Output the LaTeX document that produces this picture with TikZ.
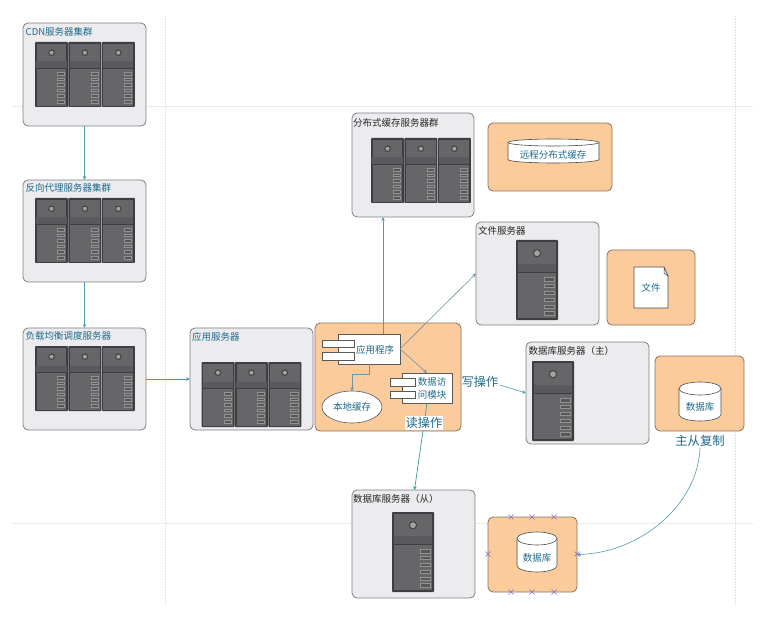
\documentclass[tikz,border=0pt]{standalone}
\usepackage{fontspec}
\setmainfont{Noto Sans CJK SC}
\usetikzlibrary{arrows.meta,calc,shapes.misc,shapes.geometric}
\definecolor{panelgrey}{HTML}{ECEBEE}
\definecolor{paneledge}{HTML}{7C8084}
\definecolor{peach}{HTML}{FBCB9C}
\definecolor{peachedge}{HTML}{8A7360}
\definecolor{inkblue}{HTML}{1F6A8A}
\definecolor{linkteal}{HTML}{4F9DAD}
\definecolor{linkgrey}{HTML}{6F969F}
\definecolor{linkblue}{HTML}{4A97C8}
\definecolor{linkgreen}{HTML}{3F9A94}
\definecolor{guide}{HTML}{E2E2E5}
\definecolor{caseedge}{HTML}{3E3E40}
\definecolor{casefill}{HTML}{666668}
\definecolor{slotedge}{HTML}{929294}
\definecolor{crossblue}{HTML}{8070D8}
\newcommand{\knobradius}{2.7pt}
\tikzset{
  greypanel/.style={draw=paneledge,line width=.8pt,fill=panelgrey,rounded corners=5pt,inner sep=0pt,outer sep=0pt},
  peachpanel/.style={draw=peachedge,line width=.8pt,fill=peach,rounded corners=5pt,inner sep=0pt,outer sep=0pt},
  whitebox/.style={draw=black!65,line width=.6pt,fill=white,inner sep=0pt,outer sep=0pt},
  titletext/.style={anchor=west,inner sep=0pt,text=black!85,font=\fontsize{9.5}{11}\selectfont},
  bluetitle/.style={titletext,text=inkblue},
  innertext/.style={inner sep=0pt,text=inkblue,font=\fontsize{9.5}{11}\selectfont},
  biglabel/.style={inner sep=1pt,text=inkblue,fill=white,font=\fontsize{12.3}{14}\selectfont},
  guideline/.style={draw=guide,line width=.6pt,densely dotted},
  link/.style={draw=linkteal,line width=.7pt,-{Stealth[length=4pt,width=3.5pt]}},
  thinlink/.style={draw=linkgrey,line width=.6pt,-{Stealth[length=4pt,width=3.5pt]}},
  xmark/.style={cross out,draw=crossblue,line width=.5pt,minimum size=4.5pt,inner sep=0pt},
  serverunit/.pic={
    \fill[caseedge,rounded corners=.8pt] (0,0) rectangle (1,1);
    \fill[casefill!70!caseedge] (.04,.3) rectangle (.96,.4);
    \fill[casefill] (.05,.03) rectangle (.95,.3);
    \fill[casefill] (.05,.41) rectangle (.95,.98);
    \draw[black!75,line width=1pt,fill=casefill!60!white] (.5,.165) circle[radius=\knobradius];
    \foreach \slot in {0,...,5}
      \draw[slotedge,line width=.5pt,fill=casefill!85!black]
        (.68,.47+\slot*.085) rectangle (.9,.51+\slot*.085);
  },
}
% Rounded panel given by its corners, with a name for connectors
\newcommand{\panelbox}[6]{%
  \pgfmathsetmacro{\pw}{#5-#3}\pgfmathsetmacro{\ph}{#6-#4}%
  \pgfmathsetmacro{\pcx}{(#3+#5)/2}\pgfmathsetmacro{\pcy}{(#4+#6)/2}%
  \node[#1,minimum width=\pw pt,minimum height=\ph pt] (#2) at (\pcx,\pcy) {};%
}
% Three servers side by side, from the top left corner
\newcommand{\serverrow}[2]{%
  \foreach \unit in {0,1,2}{
    \begin{scope}[shift={(#1+\unit*33.4,#2)},x=33pt,y=-65pt]
      \pic at (0,0) {serverunit};
    \end{scope}
  }%
}
% Single tall server, from the top left corner
\newcommand{\servertower}[2]{%
  \begin{scope}[shift={(#1,#2)},x=42pt,y=-80pt]
    \renewcommand{\knobradius}{3.6pt}
    \pic at (0,0) {serverunit};
  \end{scope}%
}
% Upright drum outline, from its corners and the depth of the top ellipse
\newcommand{\drum}[5]{%
  \pgfmathsetmacro{\drx}{(#3-#1)/2}%
  \draw[black!70,line width=.6pt,fill=white]
    (#1,#2+#5) arc[start angle=180,end angle=0,x radius=\drx pt,y radius=#5 pt]
    -- (#3,#4-#5) arc[start angle=0,end angle=-180,x radius=\drx pt,y radius=#5 pt] -- cycle;
  \draw[black!70,line width=.6pt]
    (#1,#2+#5) arc[start angle=180,end angle=360,x radius=\drx pt,y radius=#5 pt];%
}
\begin{document}
\begin{tikzpicture}[x=1pt,y=-1pt]
\useasboundingbox (0,0) rectangle (781,617);
\fill[white] (0,0) rectangle (781,617);

% dotted page guides
\coordinate (gA) at (12,106);  \coordinate (gB) at (753,106);
\coordinate (gC) at (12,523);  \coordinate (gD) at (753,523);
\coordinate (gE) at (165,16);  \coordinate (gF) at (165,606);
\coordinate (gG) at (735,16);  \coordinate (gH) at (735,606);
\draw[guideline] (gA) -- (gB);
\draw[guideline] (gC) -- (gD);
\draw[guideline] (gE) -- (gF);
\draw[guideline] (gG) -- (gH);

% server panels
\panelbox{greypanel}{cdn}{23}{23}{146}{126}
\panelbox{greypanel}{proxy}{23}{180}{146}{282}
\panelbox{greypanel}{balancer}{23}{328}{146}{430}
\panelbox{greypanel}{appserver}{190}{328}{313}{430}
\panelbox{greypanel}{cachepanel}{352}{113}{474}{217}
\panelbox{greypanel}{filepanel}{476}{222}{599}{325}
\panelbox{greypanel}{masterpanel}{526}{342}{649}{444}
\panelbox{greypanel}{slavepanel}{352}{490}{475}{598}

% software panels
\panelbox{peachpanel}{apppanel}{315}{323}{461}{431}
\panelbox{peachpanel}{remotepanel}{488}{123}{612}{191}
\panelbox{peachpanel}{filesoft}{607}{250}{695}{325}
\panelbox{peachpanel}{masterdb}{655}{356}{744}{431}
\panelbox{peachpanel}{slavedb}{488}{517}{577}{592}

% panel titles
\node[bluetitle] (tcdn) at (25.5,32) {CDN服务器集群};
\node[bluetitle] (tproxy) at (25.5,188) {反向代理服务器集群};
\node[bluetitle] (tbal) at (25.5,336) {负载均衡调度服务器};
\node[bluetitle] (tapp) at (192,337) {应用服务器};
\node[titletext] (tcache) at (353,122.5) {分布式缓存服务器群};
\node[titletext] (tfile) at (478,231) {文件服务器};
\node[titletext] (tmaster) at (528.5,351) {数据库服务器（主）};
\node[titletext] (tslave) at (353,499) {数据库服务器（从）};

% server hardware
\serverrow{35}{42}
\serverrow{35}{198}
\serverrow{35}{346}
\serverrow{201.5}{362}
\serverrow{371}{138}
\servertower{516}{240}
\servertower{532}{361}
\servertower{392}{512}

% application and data access components
\panelbox{whitebox}{appcomp}{338}{334}{400}{364}
\panelbox{whitebox}{apptaba}{322}{340}{354}{347}
\panelbox{whitebox}{apptabb}{322}{352}{354}{360}
\node[innertext] (applabel) at (375,350) {应用程序};
\panelbox{whitebox}{datacomp}{402}{373}{452}{403}
\panelbox{whitebox}{datataba}{390}{378}{415}{386}
\panelbox{whitebox}{datatabb}{390}{391}{415}{398}
\node[innertext] (datalabela) at (432,381.5) {数据访};
\node[innertext] (datalabelb) at (432,395) {问模块};
\node[ellipse,whitebox,minimum width=60pt,minimum height=32pt,text=inkblue,font=\fontsize{9.5}{11}\selectfont] (localcache) at (352,407) {本地缓存};

% drums and the document
\drum{508}{139}{599}{163}{3.5}
\node[innertext] (remotelabel) at (553,155) {远程分布式缓存};
\drum{679}{382}{721}{421}{6.5}
\node[innertext] (masterlabel) at (700,407) {数据库};
\drum{517}{532}{557}{572}{6.5}
\node[innertext] (slavelabel) at (537,558) {数据库};
\draw[black!70,line width=.6pt,fill=white]
  (634,267) -- (664,267) -- (668,276) -- (668,308) -- (634,308) -- cycle;
\draw[black!70,line width=.5pt,fill=panelgrey] (664,267) -- (664,273) -- (668,276) -- cycle;
\node[innertext] (filelabel) at (651,288) {文件};

% connectors
\draw[link] (cdn) -- (proxy);
\draw[link] (proxy) -- (balancer);
\draw[link,draw=linkblue] (balancer) -- (appserver);
\draw[link] ([xshift=14pt]appcomp.north) -- ([xshift=14pt]appcomp.north |- cachepanel.south);
\draw[thinlink] (appcomp.east) -- (filepanel.west);
\draw[thinlink] (appcomp.east) -- (datacomp.north);
\draw[thinlink] (appcomp.south) -- ++(0,10) -| (localcache.north);
\draw[link,draw=linkgreen] (datacomp.south) -- ([xshift=1pt]slavepanel.north);

% operation labels and the replication curve
\node[biglabel] (readop) at (424,423) {读操作};
\node[biglabel,fill=none] (writeop) at (480,382) {写操作};
\node[biglabel,fill=none] (replicate) at (700,441) {主从复制};
\draw[thinlink,draw=linkteal] (writeop.east) ++(0,3) -- (masterpanel.west);
\draw[link,line width=.6pt] (replicate.south) .. controls (698,505) and (640,553) .. (slavedb.east);

% connection points on the replica database panel
\node[xmark] (xa) at (511,517) {};
\node[xmark] (xb) at (532,517) {};
\node[xmark] (xc) at (554,517) {};
\node[xmark] (xd) at (511,592) {};
\node[xmark] (xe) at (532,592) {};
\node[xmark] (xf) at (554,592) {};
\node[xmark] (xg) at (488,554) {};
\node[xmark] (xh) at (577,554) {};
\end{tikzpicture}
\end{document}
